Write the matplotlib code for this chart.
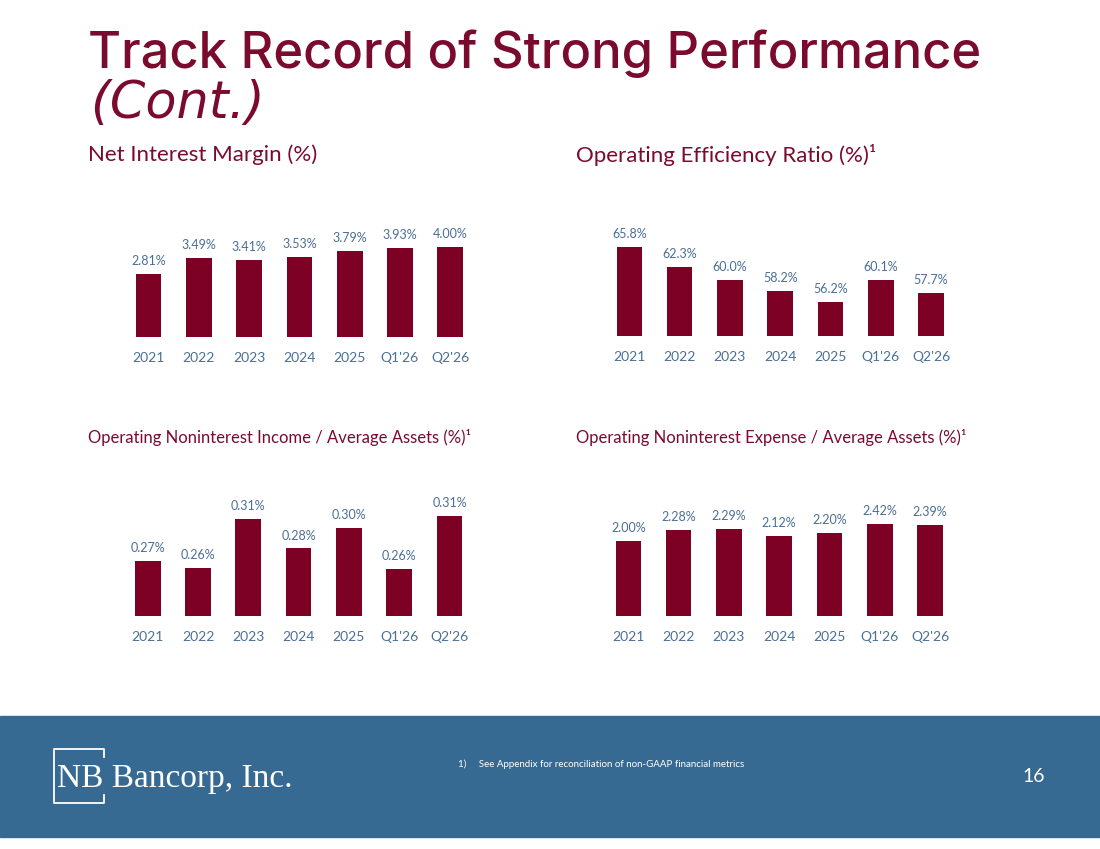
import matplotlib
matplotlib.use("Agg")
import matplotlib.pyplot as plt
from matplotlib.patches import Rectangle

# data
categories = ["2021", "2022", "2023", "2024", "2025", "Q1'26", "Q2'26"]
nim = [2.81, 3.49, 3.41, 3.53, 3.79, 3.93, 4.00]
efficiency = [65.8, 62.3, 60.0, 58.2, 56.2, 60.1, 57.7]
nonint_income = [0.268, 0.261, 0.309, 0.280, 0.300, 0.260, 0.312]
nonint_expense = [2.00, 2.28, 2.29, 2.12, 2.20, 2.42, 2.39]

BAR = "#7D0025"
TITLE = "#7A0A2E"
LABEL = "#4A6F96"
FOOTER = "#376A92"
FONT = ["Lato", "DejaVu Sans"]

plt.rcParams["font.family"] = FONT

W, H = 1100, 849
fig = plt.figure(figsize=(W / 100, H / 100), dpi=100)
fig.patch.set_facecolor("white")

# background axes in pixel coords for the slide furniture
bg = fig.add_axes([0, 0, 1, 1], zorder=0)
bg.set_xlim(0, W)
bg.set_ylim(H, 0)
bg.axis("off")

t1 = bg.text(88, 68, "Track Record of Strong Performance", fontsize=34, color=TITLE,
             family=["Inter", "DejaVu Sans"], fontweight="medium",
             va="baseline", ha="left")
t2 = bg.text(90, 118, "(Cont.)", fontsize=32, color=TITLE, style="italic",
             family=["DejaVu Sans"], va="baseline", ha="left")

bg.text(88, 155, "Net Interest Margin (%)", fontsize=16, color=TITLE, va="center")
bg.text(576, 155, "Operating Efficiency Ratio (%)\u00b9", fontsize=16, color=TITLE, va="center")
bg.text(88, 437, "Operating Noninterest Income / Average Assets (%)\u00b9", fontsize=12,
        color=TITLE, va="center")
bg.text(576, 437, "Operating Noninterest Expense / Average Assets (%)\u00b9", fontsize=12,
        color=TITLE, va="center")

# footer band
bg.add_patch(Rectangle((0, 716), W, 121, color=FOOTER, zorder=0))
bg.text(57, 787, "NB Bancorp, Inc.", fontsize=24, color="white",
        family=["Liberation Serif", "DejaVu Serif"], va="baseline", ha="left")
bx = [104, 104, 54, 54, 104, 104]
by = [757, 749, 749, 803, 803, 795]
bg.plot(bx, by, color="white", lw=1.3, solid_joinstyle="round")
bg.text(458, 764, "1)     See Appendix for reconciliation of non-GAAP financial metrics",
        fontsize=7, color="white", va="center")
bg.text(1045, 777, "16", fontsize=14, color="white", ha="right", va="center")


def panel(left_px, bottom_px, values, ylim, fmt):
    ax = fig.add_axes([left_px / W, 1 - bottom_px / H, 352 / W, 110 / H], zorder=2)
    ax.patch.set_alpha(0)
    x = range(len(categories))
    bars = ax.bar(x, values, width=0.51, color=BAR)
    ax.set_xlim(-0.5, 6.5)
    ax.set_ylim(*ylim)
    for s in ax.spines.values():
        s.set_visible(False)
    ax.set_yticks([])
    ax.set_xticks(list(x))
    ax.set_xticklabels(categories)
    ax.tick_params(axis="x", length=0, pad=11, labelsize=10, labelcolor=LABEL)
    ax.bar_label(bars, labels=[fmt.format(v) for v in values], padding=5,
                 color=LABEL, fontsize=9)
    return ax


panel(123.4, 337, nim, (0, 4.87), "{:.2f}%")
panel(604.2, 336, efficiency, (50.27, 69.47), "{:.1f}%")
panel(122.6, 616, nonint_income, (0.2128, 0.3223), "{:.2f}%")
panel(603.2, 616, nonint_expense, (0.11, 2.874), "{:.2f}%")

# stretch the headline to the slide's width
fig.canvas.draw()
r = fig.canvas.get_renderer()
w1 = t1.get_window_extent(r).width
t1.set_fontsize(34 * 894 / w1)
w2 = t2.get_window_extent(r).width
t2.set_fontsize(32 * 175 / w2)

fig.savefig("out.png", dpi=100)
